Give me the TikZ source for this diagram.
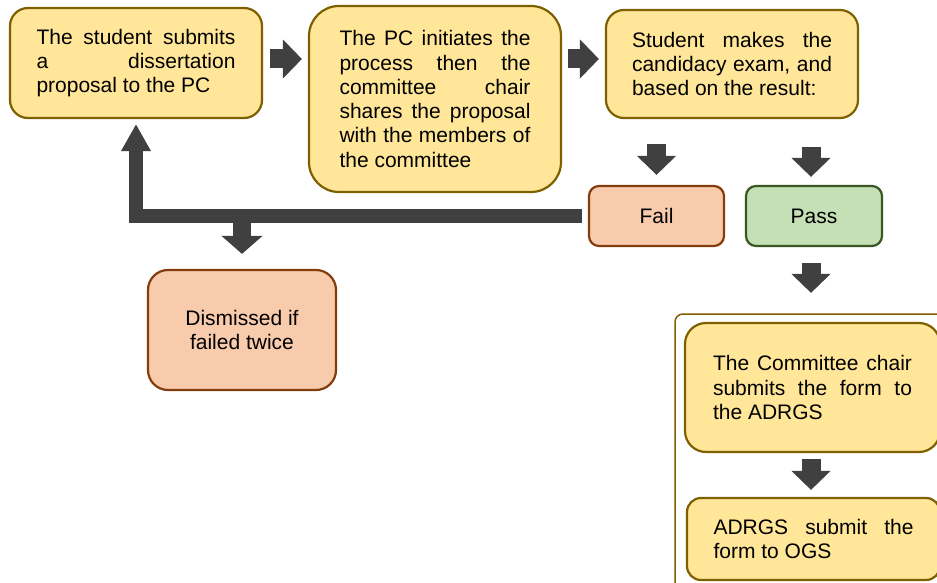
\documentclass[tikz,border=0pt]{standalone}
\usepackage{fontspec}
\setmainfont{Liberation Sans}
\usetikzlibrary{arrows.meta}
\definecolor{goldfill}{HTML}{FFE699}
\definecolor{golddraw}{HTML}{7F6000}
\definecolor{failfill}{HTML}{F8CBAD}
\definecolor{faildraw}{HTML}{843C0C}
\definecolor{passfill}{HTML}{C5E0B4}
\definecolor{passdraw}{HTML}{385723}
\definecolor{arrowgray}{HTML}{404040}
\tolerance=10000
\hyphenpenalty=10000

\begin{document}
\begin{tikzpicture}[x=1pt, y=-1pt,
    stepbox/.style={draw=golddraw, fill=goldfill, line width=2.2pt, inner sep=0pt, align=justify, font=\fontsize{21}{24.3}\selectfont},
    failbox/.style={draw=faildraw, fill=failfill, line width=2.2pt, inner sep=0pt, align=center, font=\fontsize{21}{24.3}\selectfont},
    passbox/.style={draw=passdraw, fill=passfill, line width=2.2pt, inner sep=0pt, align=center, font=\fontsize{21}{24.3}\selectfont},
    blockarrow/.style={draw=arrowgray, line width=19pt, -{Triangle[width=38pt,length=19pt]}}]
    \useasboundingbox (0,0) rectangle (937,583);
    \clip (0,0) rectangle (937,583);
    \fill[white] (0,0) rectangle (937,583);

    % Proposal and candidacy exam (top)
    \node[stepbox, minimum width=252pt, minimum height=110pt, rounded corners=18pt, text width=199pt] (submit) at (136,63) {The student submits\linebreak a dissertation\linebreak proposal to the PC};
    \node[stepbox, minimum width=252pt, minimum height=186pt, rounded corners=30pt, text width=191pt] (initiate) at (435,99) {The PC initiates the\linebreak process then the\linebreak committee chair\linebreak shares the proposal\linebreak with the members of\linebreak the committee};
    \node[stepbox, minimum width=252pt, minimum height=108pt, rounded corners=18pt, text width=200pt] (exam) at (732,64) {Student makes the\linebreak candidacy exam, and\linebreak based on the result:};

    % Result of the exam
    \node[failbox, minimum width=135pt, minimum height=60pt, rounded corners=10pt] (fail) at (656.5,216) {Fail};
    \node[passbox, minimum width=136pt, minimum height=60pt, rounded corners=10pt] (pass) at (814,216) {Pass};
    \node[failbox, minimum width=188pt, minimum height=120pt, rounded corners=20pt] (dismiss) at (242,330) {Dismissed if\\failed twice};

    % Forms after passing
    \draw[golddraw, line width=1.5pt, rounded corners=8pt] (675,314) rectangle (990,640);
    \node[stepbox, minimum width=255pt, minimum height=129pt, rounded corners=21pt, text width=199pt] (chair) at (812.5,387.5) {The Committee chair\linebreak submits the form to\linebreak the ADRGS};
    \node[stepbox, minimum width=253pt, minimum height=82pt, rounded corners=14pt, text width=200pt] (ogs) at (813.5,539) {ADRGS submit the\linebreak form to OGS};

    % Arrows
    \draw[blockarrow, shorten <=7pt, shorten >=6pt] ([yshift=4pt]submit.east) -- ([yshift=4pt]submit.east -| initiate.west);
    \draw[blockarrow, shorten <=6pt, shorten >=6pt] ([yshift=5pt]exam.west -| initiate.east) -- ([yshift=5pt]exam.west);
    \draw[blockarrow, shorten <=25pt, shorten >=10pt] (fail.north |- exam.south) -- (fail.north);
    \draw[blockarrow, shorten <=28pt, shorten >=8pt] ([xshift=-3pt]pass.north |- exam.south) -- ([xshift=-3pt]pass.north);
    \draw[blockarrow, shorten <=16pt, shorten >=29pt] ([xshift=-3pt]pass.south) -- ([xshift=-3pt]pass.south |- chair.north);
    \draw[blockarrow, shorten <=6pt, shorten >=7pt] ([xshift=-1.5pt]chair.south) -- ([xshift=-1.5pt]chair.south |- ogs.north);

    % Failing leads back to the proposal
    \draw[arrowgray, line width=14pt, -{Triangle[width=28pt,length=27pt]}, shorten <=6pt, shorten >=5pt] (fail.west) -| (submit.south);
    \coordinate (split) at (dismiss.north |- fail.west);
    \draw[arrowgray, line width=18pt, -{Triangle[width=40pt,length=18pt]}, shorten >=15pt] (split) -- (dismiss.north);
\end{tikzpicture}
\end{document}
